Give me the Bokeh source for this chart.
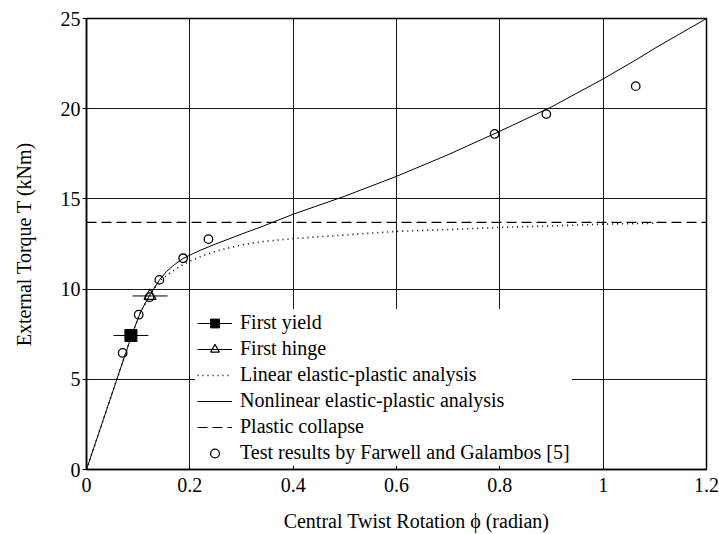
from bokeh.plotting import figure
from bokeh.models import (Range1d, FixedTicker, Legend, LegendItem,
                          ColumnDataSource)
from bokeh.embed import file_html
from bokeh.resources import INLINE

# ---------------- data ----------------
phi_nonlinear = [0, 0.065, 0.09, 0.105, 0.123, 0.141, 0.155, 0.17, 0.187, 0.205,
                 0.22, 0.25, 0.3, 0.34, 0.4, 0.5, 0.6, 0.7, 0.8, 0.9, 1.0, 1.063,
                 1.1, 1.2]
T_nonlinear = [0, 5.53, 7.65, 8.75, 9.7, 10.5, 10.98, 11.35, 11.7, 11.95,
               12.15, 12.5, 13.05, 13.47, 14.15, 15.15, 16.25, 17.45, 18.75, 20.1,
               21.65, 22.7, 23.35, 25]

phi_linear = [0, 0.065, 0.09, 0.105, 0.123, 0.141, 0.16, 0.18, 0.2, 0.225, 0.25,
              0.3, 0.34, 0.4, 0.5, 0.6, 0.7, 0.8, 0.9, 1.0, 1.1]
T_linear = [0, 5.53, 7.65, 8.75, 9.7, 10.45, 10.85, 11.25, 11.55, 11.85, 12.1,
            12.45, 12.63, 12.8, 13.0, 13.2, 13.3, 13.42, 13.5, 13.6, 13.65]

collapse_phi = [0, 1.2]
collapse_T = [13.7, 13.7]

test_phi = [0.07, 0.101, 0.122, 0.141, 0.187, 0.236, 0.79, 0.89, 1.063]
test_T = [6.46, 8.58, 9.55, 10.51, 11.71, 12.77, 18.6, 19.7, 21.25]

yield_phi = [0.086]
yield_T = [7.43]
hinge_phi = [0.123]
hinge_T = [9.62]

x_ticks = [0, 0.2, 0.4, 0.6, 0.8, 1, 1.2]
x_tick_labels = ["0", "0.2", "0.4", "0.6", "0.8", "1", "1.2"]
y_ticks = [0, 5, 10, 15, 20, 25]

FONT = "Liberation Serif"
FSIZE = "20px"

p = figure(width=719, height=534, output_backend="svg", toolbar_location=None,
           x_range=Range1d(0, 1.2), y_range=Range1d(0, 25),
           min_border_left=86, min_border_right=13, min_border_top=18,
           min_border_bottom=64, title=None)

p.background_fill_color = "white"
p.border_fill_color = "white"
p.outline_line_color = "black"
p.outline_line_width = 1.5
p.outline_line_alpha = 1

# grid
p.xgrid.ticker = FixedTicker(ticks=x_ticks)
p.ygrid.ticker = FixedTicker(ticks=y_ticks)
for g in (p.xgrid, p.ygrid):
    g.grid_line_color = "black"
    g.grid_line_width = 1
    g.grid_line_alpha = 0.9

# axes
p.xaxis.ticker = FixedTicker(ticks=x_ticks)
p.xaxis.major_label_overrides = {t: l for t, l in zip(x_ticks, x_tick_labels)}
p.yaxis.ticker = FixedTicker(ticks=y_ticks)
for ax in (p.xaxis[0], p.yaxis[0]):
    ax.axis_line_color = "black"
    ax.axis_line_width = 1.5
    ax.major_tick_line_color = "black"
    ax.minor_tick_line_color = None
    ax.major_label_text_font = FONT
    ax.major_label_text_font_size = FSIZE
    ax.major_label_text_color = "black"
    ax.axis_label_text_font = FONT
    ax.axis_label_text_font_size = FSIZE
    ax.axis_label_text_font_style = "normal"
    ax.axis_label_text_color = "black"

p.xaxis.major_tick_in = 4
p.xaxis.major_tick_out = 0
p.xaxis.major_label_standoff = 8
# the reference title sits ~20px right of the frame centre: pad with no-break spaces
p.xaxis.axis_label = "\u00a0" * 8 + "Central Twist Rotation \u03d5 (radian)"
p.xaxis.axis_label_standoff = 15
p.yaxis.major_tick_in = 0
p.yaxis.major_tick_out = 4
p.yaxis.major_label_standoff = 2
p.yaxis.axis_label = "External Torque T (kNm)"
p.yaxis.axis_label_standoff = 23

# curves
r_collapse = p.line(collapse_phi, collapse_T, line_color="black", line_width=1.2,
                    line_dash="10 5")
r_linear = p.line(phi_linear, T_linear, line_color="black", line_width=1.6,
                  line_dash="1 4")
r_nonlinear = p.line(phi_nonlinear, T_nonlinear, line_color="black", line_width=1)

# first yield / first hinge markers with horizontal bars
src_y = ColumnDataSource(dict(x=yield_phi, T=yield_T))
src_h = ColumnDataSource(dict(x=hinge_phi, T=hinge_T))
p.scatter("x", "T", source=src_y, marker="dash", size=35, line_color="black", line_width=1)
p.scatter("x", "T", source=src_h, marker="dash", size=35, line_color="black", line_width=1)
r_y_line = p.line("x", "T", source=src_y, line_color="black", line_width=1)
r_h_line = p.line("x", "T", source=src_h, line_color="black", line_width=1)
r_yield = p.scatter("x", "T", source=src_y, marker="square", size=12,
                    fill_color="black", line_color="black")
r_hinge = p.scatter("x", "T", source=src_h, marker="triangle", size=12,
                    fill_alpha=0, line_color="black", line_width=1.2)

# test results
r_test = p.scatter(test_phi, test_T, marker="circle", size=8.5, fill_alpha=0,
                   line_color="black", line_width=1.3)

legend = Legend(items=[
    LegendItem(label="First yield", renderers=[r_y_line, r_yield]),
    LegendItem(label="First hinge", renderers=[r_h_line, r_hinge]),
    LegendItem(label="Linear elastic-plastic analysis", renderers=[r_linear]),
    LegendItem(label="Nonlinear elastic-plastic analysis", renderers=[r_nonlinear]),
    LegendItem(label="Plastic collapse", renderers=[r_collapse]),
    LegendItem(label="Test results by Farwell and Galambos [5]", renderers=[r_test]),
], location=(109, 3))
legend.border_line_alpha = 0
legend.background_fill_color = "white"
legend.background_fill_alpha = 1
legend.padding = 2
legend.margin = 0
legend.spacing = 3
legend.glyph_width = 35
legend.glyph_height = 22
legend.label_height = 22
legend.label_standoff = 8
legend.label_text_font = FONT
legend.label_text_font_size = FSIZE
legend.label_text_color = "black"
p.add_layout(legend, "center")

open("out.html", "w").write(file_html(p, INLINE))
